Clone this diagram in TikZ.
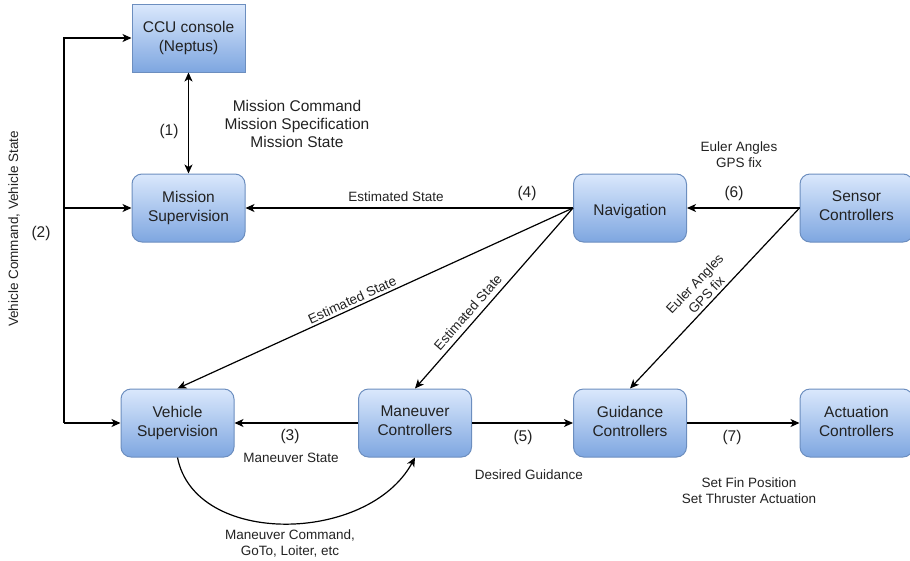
\documentclass[tikz,border=0pt]{standalone}
\usepackage{fontspec}
\setmainfont{Liberation Sans}
\usetikzlibrary{arrows.meta}
\definecolor{boxtop}{HTML}{DAE8FC}
\definecolor{boxbot}{HTML}{7EA6E0}
\definecolor{boxline}{HTML}{6C8EBF}
\definecolor{txt}{HTML}{222222}
\begin{document}
\begin{tikzpicture}[x=1pt,y=-1pt,
  blk/.style={rectangle, rounded corners=10pt, draw=boxline, line width=1pt,
    top color=boxtop, bottom color=boxbot, minimum width=113pt, minimum height=68pt,
    align=center, font=\fontsize{15.5}{19}\selectfont, text=txt, inner sep=0pt,
    execute at begin node={\rule{0pt}{18pt}},
    execute at end node={\rule[-4pt]{0pt}{4pt}}},
  sqblk/.style={blk, rounded corners=0pt},
  lbl/.style={font=\fontsize{15.5}{18}\selectfont, text=txt, align=center, inner sep=0pt},
  sml/.style={font=\fontsize{13.5}{16}\selectfont, text=txt, align=center, inner sep=0pt},
  conn/.style={line width=1.2pt, -{Stealth[length=9pt,width=8pt,inset=2.5pt]}},
  rconn/.style={line width=1.2pt, {Stealth[length=9pt,width=8pt,inset=2.5pt]}-},
  bconn/.style={line width=1.2pt, {Stealth[length=9pt,width=8pt,inset=2.5pt]}-{Stealth[length=9pt,width=8pt,inset=2.5pt]}},
]
\useasboundingbox (0,0) rectangle (910,560);

% blocks
\node[sqblk] (ccu) at (188.5,38) {CCU console\\(Neptus)};
\node[blk] (ms) at (188.5,208) {Mission\\Supervision};
\node[blk] (nav) at (630,208) {Navigation};
\node[blk] (sc) at (856.5,208) {Sensor\\Controllers};
\node[blk] (vs) at (177.5,423) {Vehicle\\Supervision};
\node[blk] (mc) at (415,423) {Maneuver\\Controllers};
\node[blk] (gc) at (630,423) {Guidance\\Controllers};
\node[blk] (ac) at (856.5,423) {Actuation\\Controllers};

% left feedback line (2)
\coordinate (lb) at (64,423);
\coordinate (lm) at (64,208);
\coordinate (lt) at (64,38);
\draw[conn] (lb) -- (lt) -- (ccu.west);
\draw[conn] (lm) -- (ms.west);
\draw[conn] (lb) -- (vs.west);

% (1)
\draw[bconn] (ccu.south) -- (ms.north);

% horizontal arrows
\draw[conn] (nav.west) -- (ms.east);
\draw[conn] (sc.west) -- (nav.east);
\draw[conn] (mc.west) -- (vs.east);
\draw[conn] (mc.east) -- (gc.west);
\draw[conn] (gc.east) -- (ac.west);

% diagonals
\draw[rconn] (vs.north) -- (nav.west)
  node[pos=0.45, above=2.5pt, sloped, sml] (d1) {Estimated State};
\draw[rconn] (mc.north) -- (nav.west)
  node[pos=0.385, above=5pt, sloped, sml] (d2) {Estimated State};
\draw[rconn] (gc.north) -- (sc.west)
  node[pos=0.487, above=3pt, sloped, sml] (d3) {Euler Angles\\GPS fix};

% curved command arrow
\draw[conn] (vs.south) .. controls (195,547) and (368,544) .. (mc.south);

% labels
\node[lbl] (l1) at (169,131) {(1)};
\node[lbl] (l1t) at (297,124) {Mission Command\\Mission Specification\\Mission State};
\node[lbl] (l2) at (41,233) {(2)};
\node[sml, rotate=90] (l2t) at (14,229) {Vehicle Command, Vehicle State};
\node[lbl] (l3) at (290,436) {(3)};
\node[sml] (l3t) at (291,458) {Maneuver State};
\node[sml] (l4t) at (396,197) {Estimated State};
\node[lbl] (l4) at (527,193) {(4)};
\node[lbl] (l5) at (523,437) {(5)};
\node[sml] (l5t) at (529,475) {Desired Guidance};
\node[sml] (l6t) at (739,155) {Euler Angles\\GPS fix};
\node[lbl] (l6) at (734,193) {(6)};
\node[lbl] (l7) at (732,437) {(7)};
\node[sml] (l7t) at (749,491) {Set Fin Position\\Set Thruster Actuation};
\node[sml] (lct) at (290,543) {Maneuver Command,\\GoTo, Loiter, etc};
\end{tikzpicture}
\end{document}
